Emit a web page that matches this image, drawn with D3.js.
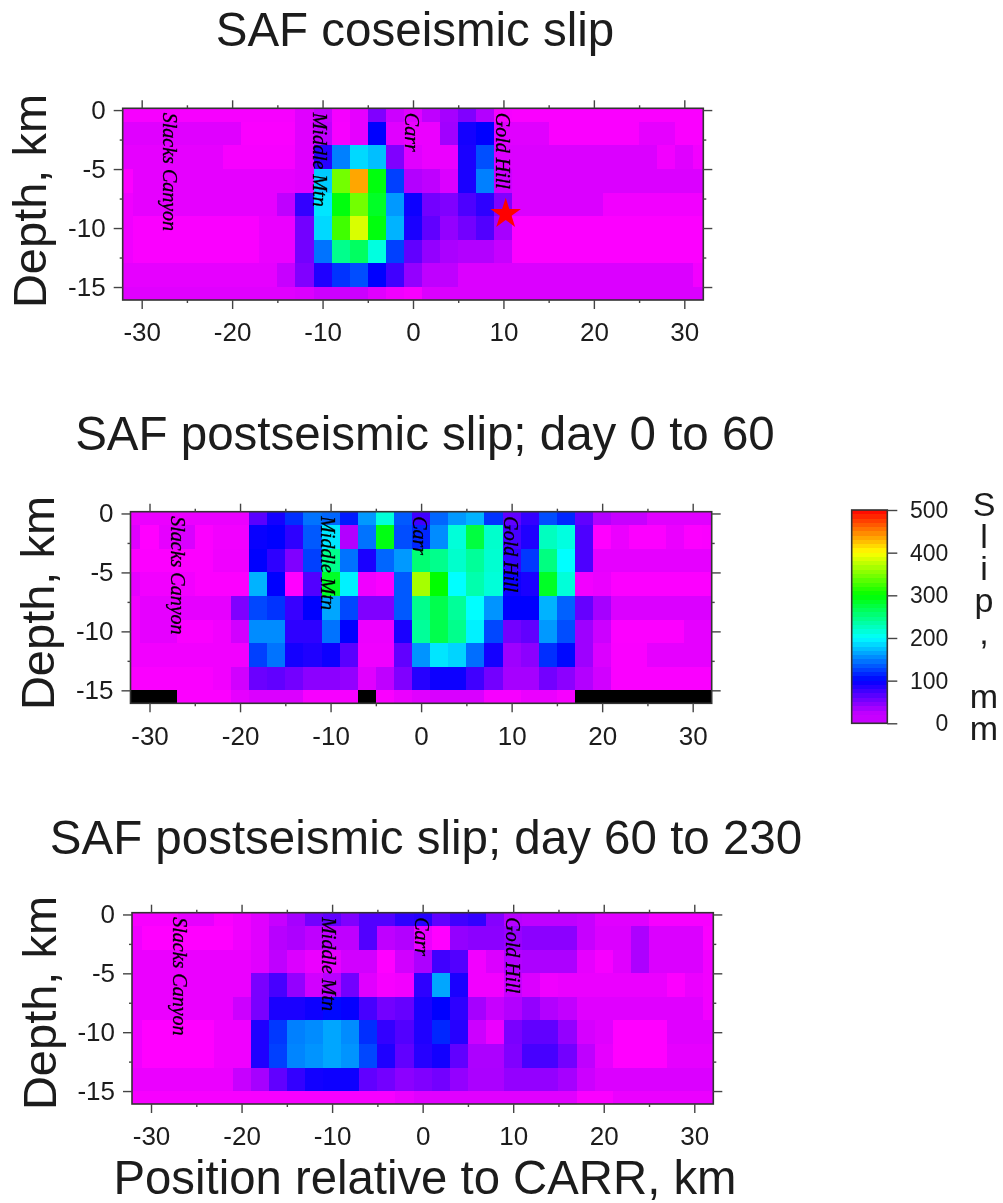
<!DOCTYPE html>
<html>
<head>
<meta charset="utf-8">
<script src="https://cdn.jsdelivr.net/npm/d3@7"></script>
<style>
  html, body { margin: 0; padding: 0; background: #fff; }
  svg { display: block; filter: blur(0.7px); }
  text { font-family: "Liberation Sans", sans-serif; fill: #1c1c1c; }
  .site { font-family: "Liberation Serif", serif; font-style: italic; fill: #000; stroke: #000; stroke-width: 0.3px; }
</style>
</head>
<body>
<svg id="chart" width="1003" height="1203"></svg>
<script>
// slip in mm, one list per depth row, columns run along xCenters
const xCenters = d3.range(-32, 33, 2);
const depthCenters = [0, -2, -4, -6, -8, -10, -12, -14, -16];

const coseismic = [
  [3,3,3,3,3,3,3,3,3,3, 12,22,4,10,50,20, 12,25,35,50,30,3, 2,2,2,2,2,2,2,2,2,2,2],
  [12,12,12,12,12,12,12,2,2,2, 12,25,3,10,100,12, 8,8,37,92,100,12, 12,12,2,2,2,2,2,10,10,2,2],
  [10,10,10,10,10,10,3,3,3,3, 12,85,150,185,175,50, 12,8,8,90,131,14, 14,14,14,14,14,14,14,14,5,12,5],
  [1,10,10,10,10,10,10,10,10,10, 12,180,345,435,295,125, 30,25,14,90,150,20, 14,14,14,14,14,14,14,14,14,14,14],
  [6,10,10,10,10,10,10,10,10,25, 80,190,295,345,285,160, 95,55,50,70,82,50, 14,14,14,14,14,5,5,5,5,5,5],
  [6,2,2,2,2,2,2,2,8,8, 55,185,325,385,295,170, 90,62,42,55,68,35, 1,1,1,1,1,1,1,1,1,1,1],
  [6,2,2,2,2,2,2,2,8,8, 55,145,245,262,212,125, 62,42,33,30,30,22, 1,1,1,1,1,1,1,1,1,1,1],
  [10,10,10,10,10,10,10,10,10,22, 50,88,120,130,100,75, 42,25,25,14,14,14, 14,14,14,14,14,14,14,14,14,14,5],
  [12,12,12,12,12,12,12,12,12,12, 14,20,20,20,12,6, 3,14,14,14,14,14, 14,14,14,14,14,14,14,14,14,14,14]
];

// null = no data, drawn black
const postDay60 = [
  [8,8,8,8,8,8,8,65,92,118, 145,140,110,160,215,135, 75,140,160,170,120,62, 80,130,115,62,30,22,22,12,12,12,12],
  [12,0,10,15,1,5,5,97,100,82, 135,190,30,145,293,130, 115,155,215,275,220,72, 88,225,212,70,0,8,1,1,8,1,2],
  [1,1,1,1,1,6,6,100,82,50, 125,245,145,90,140,160, 255,245,220,240,218,80, 122,250,200,70,10,10,10,10,10,10,10],
  [10,5,5,5,1,1,1,170,100,0, 68,285,195,6,2,135, 365,300,200,232,215,95, 90,285,215,5,8,1,1,1,1,1,1],
  [5,10,10,10,10,10,50,128,120,78, 100,165,128,50,50,135, 245,270,240,200,158,100, 100,170,138,60,35,14,14,14,14,14,14],
  [5,10,10,2,2,5,18,155,155,82, 82,145,100,7,7,90, 240,270,245,195,128,55, 62,160,130,38,20,1,1,1,1,10,10],
  [5,5,5,5,5,5,5,125,145,92, 88,95,65,6,6,62, 158,190,183,143,92,38, 45,118,103,38,14,2,2,10,10,10,10],
  [2,2,2,2,2,5,18,58,62,55, 45,45,42,12,25,50, 85,95,95,75,55,35, 35,55,45,30,18,2,2,2,2,2,2],
  [null,null,null,1,1,1,10,14,14,14, 3,3,3,null,2,8, 12,15,15,15,3,3, 8,8,3,null,null,null,null,null,null,null,null]
];

const postDay230 = [
  [3,3,3,10,10,2,6,12,22,35, 55,62,50,68,68,82, 85,62,75,80,48,28, 25,25,25,22,12,12,12,3,3,3,3],
  [6,0,0,0,0,0,6,12,28,32, 25,25,25,68,25,30, 8,0,42,45,45,40, 45,45,45,22,14,14,32,14,14,14,2],
  [8,8,8,8,8,8,8,12,25,14, 8,10,18,18,0,18, 32,75,68,5,14,30, 32,32,32,10,3,12,32,14,14,14,5],
  [8,8,8,8,8,8,8,52,72,42, 18,28,55,12,3,5, 82,165,90,5,5,22, 14,6,8,8,8,8,8,8,1,8,5],
  [8,8,8,8,8,8,20,52,90,90, 95,103,98,72,55,60, 90,100,82,35,22,30, 42,30,24,12,12,12,12,12,12,12,5],
  [6,0,0,0,0,6,6,88,122,150, 155,165,155,118,80,68, 88,115,85,20,8,52, 62,62,42,16,12,0,0,0,12,12,12],
  [6,0,0,0,0,6,6,88,125,152, 158,165,158,128,88,62, 85,93,62,32,32,50, 72,72,55,25,10,0,0,0,10,10,10],
  [8,8,8,8,8,8,22,35,62,80, 93,95,95,62,55,45, 50,55,42,33,33,42, 42,42,35,20,14,14,14,14,14,14,14],
  [3,3,3,3,3,3,3,3,3,3, 3,3,3,3,3,8, 12,12,12,12,12,12, 12,12,12,2,2,8,8,8,8,8,8]
];

const siteNames = ["Slacks Canyon", "Middle Mtn", "Carr", "Gold Hill"];
const sitePositions = [-27.6, -11.1, -0.9, 9.2];
const epicenter = [10.25, -8.8];

const xMajor = [-30, -20, -10, 0, 10, 20, 30];
const xMinor = [-25, -15, -5, 5, 15, 25];
const yMajor = [0, -5, -10, -15];
const yMinor = [-2.5, -7.5, -12.5];
const barTicks = [0, 100, 200, 300, 400, 500];
const slipLetters = ["S", "l", "i", "p", ",", " ", "m", "m"];

const slipStops = [0, 100, 200, 300, 400, 500];
const slipColors = ["#ff00ff", "#0000ff", "#00ffff", "#00ff00", "#ffff00", "#ff0000"];
const colour = d3.scaleLinear().domain(slipStops).range(slipColors).clamp(true);

const svg = d3.select("#chart");
const plainNumber = d => String(d);   // keeps the short hyphen of the original

function styleAxis(g, size) {
  g.select(".domain").remove();
  g.selectAll("line").attr("stroke", "#444").attr("stroke-width", 1.4);
  g.selectAll("text").style("font-size", size + "px").attr("fill", "#1c1c1c");
}

function drawPanel(p, idx) {
  const x = d3.scaleLinear().domain([-32.1, 32.1]).range([p.left, p.right]);
  const y = d3.scaleLinear().domain([-16.1, 0.15]).range([p.bottom, p.top]);
  const g = svg.append("g");

  g.append("clipPath").attr("id", "clip" + idx).append("rect")
    .attr("x", p.left).attr("y", p.top)
    .attr("width", p.right - p.left).attr("height", p.bottom - p.top);

  const cells = [];
  p.values.forEach((row, r) => row.forEach((v, c) => cells.push({ x: xCenters[c], d: depthCenters[r], v: v })));

  g.append("g").attr("clip-path", "url(#clip" + idx + ")")
    .attr("shape-rendering", "crispEdges")
    .selectAll("rect").data(cells).enter().append("rect")
    .attr("x", d => x(d.x - 1))
    .attr("y", d => y(d.d + 1))
    .attr("width", d => x(d.x + 1) - x(d.x - 1))
    .attr("height", d => y(d.d - 1) - y(d.d + 1))
    .attr("fill", d => d.v === null ? "#000" : colour(d.v));

  // site names, rotated to read downwards
  g.selectAll(".site").data(siteNames).enter().append("text")
    .attr("class", "site")
    .attr("transform", (d, i) => "translate(" + x(sitePositions[i]) + "," + (p.top + 4.5) + ") rotate(90)")
    .style("font-size", "20px")
    .text(d => d);

  if (p.star) {
    g.append("path")
      .attr("d", d3.symbol(d3.symbolStar, 290)())
      .attr("transform", "translate(" + x(epicenter[0]) + "," + y(epicenter[1]) + ")")
      .attr("fill", "#ff0000");
  }

  // frame
  g.append("rect")
    .attr("x", p.left).attr("y", p.top)
    .attr("width", p.right - p.left).attr("height", p.bottom - p.top)
    .attr("fill", "none").attr("stroke", "#333").attr("stroke-width", 1.6);

  // ticks on all four sides, labels only bottom and left
  const bottom = g.append("g").attr("transform", "translate(0," + p.bottom + ")")
    .call(d3.axisBottom(x).tickValues(xMajor).tickSize(9).tickPadding(14).tickFormat(plainNumber));
  styleAxis(bottom, 26);
  g.append("g").attr("transform", "translate(0," + p.bottom + ")")
    .call(d3.axisBottom(x).tickValues(xMinor).tickSize(3).tickFormat("")).call(s => styleAxis(s, 26));

  const top = g.append("g").attr("transform", "translate(0," + p.top + ")")
    .call(d3.axisTop(x).tickValues(xMajor).tickSize(8).tickFormat(""));
  styleAxis(top, 26);
  g.append("g").attr("transform", "translate(0," + p.top + ")")
    .call(d3.axisTop(x).tickValues(xMinor).tickSize(3).tickFormat("")).call(s => styleAxis(s, 26));

  const left = g.append("g").attr("transform", "translate(" + p.left + ",0)")
    .call(d3.axisLeft(y).tickValues(yMajor).tickSize(9).tickPadding(8).tickFormat(plainNumber));
  styleAxis(left, 26);
  g.append("g").attr("transform", "translate(" + p.left + ",0)")
    .call(d3.axisLeft(y).tickValues(yMinor).tickSize(3).tickFormat("")).call(s => styleAxis(s, 26));

  g.append("g").attr("transform", "translate(" + p.right + ",0)")
    .call(d3.axisRight(y).tickValues(yMajor).tickSize(9).tickFormat("")).call(s => styleAxis(s, 26));
  g.append("g").attr("transform", "translate(" + p.right + ",0)")
    .call(d3.axisRight(y).tickValues(yMinor).tickSize(3).tickFormat("")).call(s => styleAxis(s, 26));

  g.append("text").attr("x", p.titleX).attr("y", p.titleY)
    .attr("text-anchor", "middle").style("font-size", "47.5px").text(p.title);

  g.append("text")
    .attr("transform", "translate(" + p.ylabelX + "," + p.ylabelY + ") rotate(-90)")
    .attr("text-anchor", "middle").style("font-size", "47px").text("Depth, km");
}

const panels = [
  { values: coseismic, star: true, title: "SAF coseismic slip", titleX: 415, titleY: 46,
    left: 122.7, right: 703.3, top: 108.3, bottom: 300, ylabelX: 46, ylabelY: 201 },
  { values: postDay60, star: false, title: "SAF postseismic slip; day 0 to 60", titleX: 425, titleY: 450,
    left: 130.5, right: 711.7, top: 511.7, bottom: 703.3, ylabelX: 54, ylabelY: 603 },
  { values: postDay230, star: false, title: "SAF postseismic slip; day 60 to 230", titleX: 426, titleY: 854,
    left: 132, right: 713.3, top: 912.7, bottom: 1104, ylabelX: 56, ylabelY: 1003 }
];
panels.forEach(drawPanel);

svg.append("text").attr("x", 425).attr("y", 1194)
  .attr("text-anchor", "middle").style("font-size", "47.3px")
  .text("Position relative to CARR, km");

// colour bar
const barX = [851.7, 887.3];
const barY = d3.scaleLinear().domain([0, 500]).range([723.3, 510]);
const barSteps = d3.range(0, 500, 10);
const bar = svg.append("g");
bar.append("g").attr("shape-rendering", "crispEdges")
  .selectAll("rect").data(barSteps).enter().append("rect")
  .attr("x", barX[0]).attr("width", barX[1] - barX[0])
  .attr("y", d => barY(d + 10)).attr("height", d => barY(d) - barY(d + 10))
  .attr("fill", d => colour(Math.max(d + 5, 22)));
bar.append("rect")
  .attr("x", barX[0]).attr("y", barY(500))
  .attr("width", barX[1] - barX[0]).attr("height", barY(0) - barY(500))
  .attr("fill", "none").attr("stroke", "#333").attr("stroke-width", 1.6);
const barAxis = bar.append("g").attr("transform", "translate(" + barX[1] + ",0)")
  .call(d3.axisRight(barY).tickValues(barTicks).tickSize(10).tickPadding(0).tickFormat(plainNumber));
styleAxis(barAxis, 23);
barAxis.selectAll("text").attr("x", 61).attr("text-anchor", "end");

// vertical axis title, one text with a letter per line
svg.append("text").attr("y", 516).style("font-size", "34px")
  .attr("text-anchor", "middle")
  .selectAll("tspan").data(slipLetters).enter().append("tspan")
  .attr("x", 984)
  .attr("dy", (d, i) => i === 0 ? 0 : 32)
  .text(d => d === " " ? "\u00a0" : d);
</script>
</body>
</html>
